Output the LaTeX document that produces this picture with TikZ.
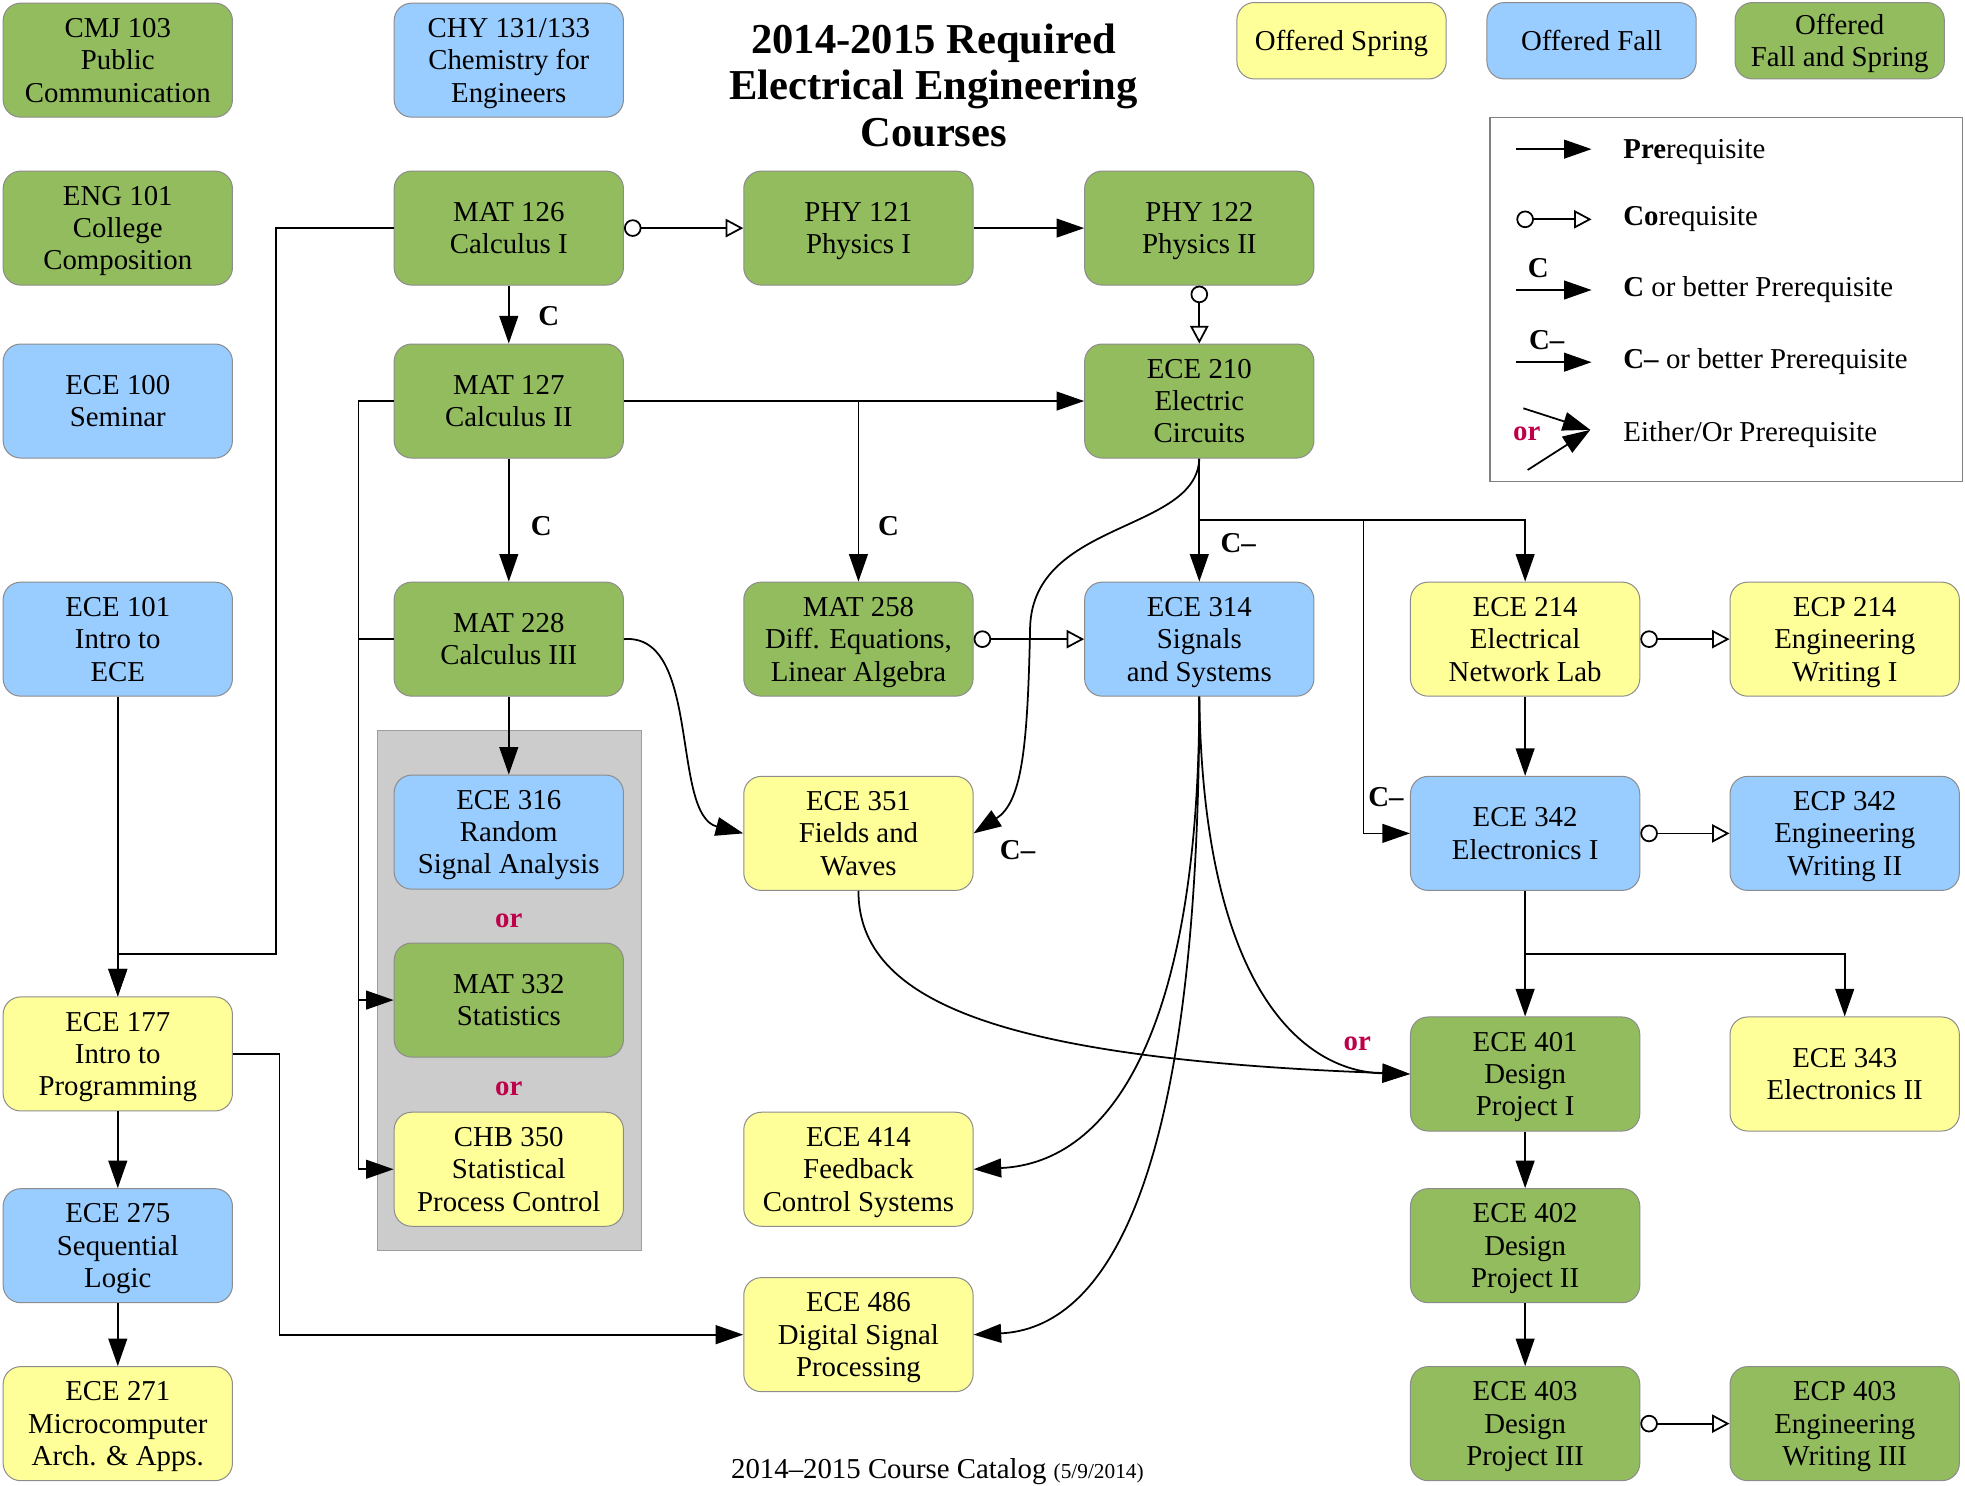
\documentclass[tikz,border=0pt]{standalone}
\usepackage{fontspec}
\setmainfont{Liberation Serif}
\usetikzlibrary{arrows.meta}
\definecolor{cgreen}{RGB}{147,188,94}
\definecolor{cblue}{RGB}{153,204,255}
\definecolor{cyellow}{RGB}{255,255,153}
\definecolor{cgraybox}{RGB}{204,204,204}
\definecolor{cred}{RGB}{190,0,75}
\newcommand{\cfont}{\fontsize{11.5}{12.9}\selectfont}
\newsavebox{\mystrutbox}
\newcommand{\ct}[1]{{\cfont\setbox\strutbox\hbox{\vrule height 10.25pt depth 2.65pt width 0pt}%
  \begin{tabular}{@{}c@{}}#1\end{tabular}}}
\newcommand{\topstrut}{\rule{0pt}{10.25pt}}
\newcommand{\botstrut}{\rule[-2.48pt]{0pt}{2.48pt}}
\tikzset{
  struts/.style={execute at begin node={\topstrut}, execute at end node={\botstrut}},
  course/.style={rectangle, rounded corners=7pt, draw=black!45, line width=0.4pt,
    minimum width=91.5pt, minimum height=45.5pt, inner sep=1pt, font=\cfont},
  spring/.style={course, fill=cyellow},
  fall/.style={course, fill=cblue},
  both/.style={course, fill=cgreen},
  keybox/.style={course, minimum width=83.5pt, minimum height=30.5pt},
  pre/.style={-{Triangle[length=11pt,width=7.5pt]}, line width=0.7pt},
  co/.style={{Circle[open,length=7pt,width=7pt]}-{Triangle[open,length=7pt,width=7.3pt]}, line width=0.7pt},
  lab/.style={font=\cfont\bfseries, inner sep=0pt},
  orlab/.style={font=\cfont\bfseries, text=cred, inner sep=0pt},
  legtext/.style={font=\cfont, anchor=base west, inner sep=0pt},
}
\begin{document}
\begin{tikzpicture}[x=0.5pt,y=-0.5pt]
\fill[white] (0,0) rectangle (1568,1185);
\useasboundingbox (0,0) rectangle (1568,1185);

% title
\node[font=\fontsize{17}{18.5}\selectfont\bfseries, align=center] (title) at (745,68)
  {2014-2015 Required\\Electrical Engineering\\Courses};

% key boxes
\node[keybox, fill=cyellow] (kspring) at (1070.5,32.5) {\ct{Offered Spring}};
\node[keybox, fill=cblue] (kfall) at (1270,32.5) {\ct{Offered Fall}};
\node[keybox, fill=cgreen] (kboth) at (1468,32.5) {\ct{Offered\\Fall and Spring}};

% gray group box
\draw[fill=cgraybox, draw=black!38, line width=0.5pt] (301,583) rectangle (512,998);

% column 1
\node[both] (cmj) at (94,48) {\ct{CMJ 103\\Public\\Communication}};
\node[both] (eng) at (94,182) {\ct{ENG 101\\College\\Composition}};
\node[fall] (ece100) at (94,320) {\ct{ECE 100\\Seminar}};
\node[fall] (ece101) at (94,510) {\ct{ECE 101\\Intro to\\ECE}};
\node[spring] (ece177) at (94,841) {\ct{ECE 177\\Intro to\\Programming}};
\node[fall] (ece275) at (94,994) {\ct{ECE 275\\Sequential\\Logic}};
\node[spring] (ece271) at (94,1136) {\ct{ECE 271\\Microcomputer\\Arch. \& Apps.}};

% column 2
\node[fall] (chy) at (406,48) {\ct{CHY 131/133\\Chemistry for\\Engineers}};
\node[both] (mat126) at (406,182) {\ct{MAT 126\\Calculus I}};
\node[both] (mat127) at (406,320) {\ct{MAT 127\\Calculus II}};
\node[both] (mat228) at (406,510) {\ct{MAT 228\\Calculus III}};
\node[fall] (ece316) at (406,664) {\ct{ECE 316\\Random\\Signal Analysis}};
\node[orlab] (or1) at (406,735) {or};
\node[both] (mat332) at (406,798) {\ct{MAT 332\\Statistics}};
\node[orlab] (or2) at (406,869) {or};
\node[spring] (chb350) at (406,933) {\ct{CHB 350\\Statistical\\Process Control}};

% column 3
\node[both] (phy121) at (685,182) {\ct{PHY 121\\Physics I}};
\node[both] (mat258) at (685,510) {\ct{MAT 258\\Diff. Equations,\\Linear Algebra}};
\node[spring] (ece351) at (685,665) {\ct{ECE 351\\Fields and\\Waves}};
\node[spring] (ece414) at (685,933) {\ct{ECE 414\\Feedback\\Control Systems}};
\node[spring] (ece486) at (685,1065) {\ct{ECE 486\\Digital Signal\\Processing}};

% column 4
\node[both] (phy122) at (957,182) {\ct{PHY 122\\Physics II}};
\node[both] (ece210) at (957,320) {\ct{ECE 210\\Electric\\Circuits}};
\node[fall] (ece314) at (957,510) {\ct{ECE 314\\Signals\\and Systems}};

% column 5
\node[spring] (ece214) at (1217,510) {\ct{ECE 214\\Electrical\\Network Lab}};
\node[fall] (ece342) at (1217,665) {\ct{ECE 342\\Electronics I}};
\node[both] (ece401) at (1217,857) {\ct{ECE 401\\Design\\Project I}};
\node[both] (ece402) at (1217,994) {\ct{ECE 402\\Design\\Project II}};
\node[both] (ece403) at (1217,1136) {\ct{ECE 403\\Design\\Project III}};

% column 6
\node[spring] (ecp214) at (1472,510) {\ct{ECP 214\\Engineering\\Writing I}};
\node[fall] (ecp342) at (1472,665) {\ct{ECP 342\\Engineering\\Writing II}};
\node[spring] (ece343) at (1472,857) {\ct{ECE 343\\Electronics II}};
\node[both] (ecp403) at (1472,1136) {\ct{ECP 403\\Engineering\\Writing III}};

% connectors
\draw[pre] (mat126) -- (mat127);
\node[lab] (lc1) at (438,252) {C};
\draw[pre] (mat126.west) -| (220,761) -| (ece177.north);
\draw[pre] (ece101) -- (ece177);
\draw[co] (mat126) -- (phy121);
\draw[pre] (phy121) -- (phy122);
\draw[co] (phy122) -- (ece210);
\draw[pre] (mat127) -- (ece210);
\draw[pre] (mat127.east -| mat258.north) -- (mat258.north);
\node[lab] (lc2) at (709,420) {C};
\draw[pre] (mat127) -- (mat228);
\node[lab] (lc3) at (432,420) {C};
\draw[pre] (mat127.west) -| (286,798) -- (mat332.west);
\draw[pre] (286,798) |- (chb350.west);
\draw[line width=0.7pt] (mat228.west) -- (286,510);
\draw[pre] (mat228) -- (ece316);
\draw[pre] (mat228.east) .. controls (560,505) and (535,650) .. (ece351.west);

\draw[pre] (ece210) -- (ece314);
\node[lab] (lc4) at (988,433) {C–};
\draw[pre] (957,415) -| (ece214.north);
\draw[pre] (1088,415) |- (ece342.west);
\node[lab] (lc5) at (1106,636) {C–};
\draw[pre] (ece210.south) .. controls (955,425) and (825,415) .. (822,500)
   .. controls (820,600) and (815,640) .. (ece351.east);
\node[lab] (lc6) at (812,678) {C–};
\draw[co] (mat258) -- (ece314);

\draw[pre] (ece314.south) .. controls (957,820) and (888,928) .. (ece414.east);
\draw[pre] (ece314.south) .. controls (957,950) and (880,1060) .. (ece486.east);
\draw[pre] (ece314.south) .. controls (960,790) and (1040,855) .. (ece401.west);
\node[orlab] (or3) at (1083,833) {or};
\draw[pre] (ece351.south) .. controls (685,800) and (800,845) .. (ece401.west);

\draw[pre] (ece214) -- (ece342);
\draw[co] (ece214) -- (ecp214);
\draw[co] (ece342) -- (ecp342);
\draw[pre] (ece342) -- (ece401);
\draw[pre] (1217,761) -| (ece343.north);
\draw[pre] (ece401) -- (ece402);
\draw[pre] (ece402) -- (ece403);
\draw[co] (ece403) -- (ecp403);

\draw[pre] (ece177) -- (ece275);
\draw[pre] (ece275) -- (ece271);
\draw[pre] (ece177.east) -| (223,1065) -- (ece486.west);

% legend
\draw[fill=white, draw=black!50, line width=0.5pt] (1189,94) rectangle (1566,384);
\coordinate (l1a) at (1210,119); \coordinate (l1b) at (1270,119);
\coordinate (l2a) at (1210,175); \coordinate (l2b) at (1270,175);
\coordinate (l3a) at (1210,231.4); \coordinate (l3b) at (1270,231.4);
\coordinate (l4a) at (1210,289); \coordinate (l4b) at (1270,289);
\coordinate (l5a) at (1215.6,325.8); \coordinate (l5b) at (1219,375); \coordinate (l5c) at (1269,343);
\draw[pre] (l1a) -- (l1b);
\draw[co] (l2a) -- (l2b);
\draw[pre] (l3a) -- (l3b);
\node[lab, anchor=base] (lk3) at (1227.5,221.3) {C};
\draw[pre] (l4a) -- (l4b);
\node[lab, anchor=base] (lk4) at (1234.2,278.8) {C–};
\draw[pre] (l5a) -- (l5c);
\draw[pre] (l5b) -- (l5c);
\node[orlab, anchor=base] (lk5) at (1218.3,351.6) {or};
\node[legtext] (t1) at (1295,126.3) {\textbf{Pre}requisite};
\node[legtext] (t2) at (1295,179.6) {\textbf{Co}requisite};
\node[legtext] (t3) at (1295,236.7) {\textbf{C} or better Prerequisite};
\node[legtext] (t4) at (1295,293.9) {\textbf{C–} or better Prerequisite};
\node[legtext] (t5) at (1295,352.5) {Either/Or Prerequisite};

% footer
\node[font=\cfont, inner sep=0pt, struts] (footer) at (748,1172)
  {2014–2015 Course Catalog {\fontsize{8.5}{10}\selectfont (5/9/2014)}};
\end{tikzpicture}
\end{document}
